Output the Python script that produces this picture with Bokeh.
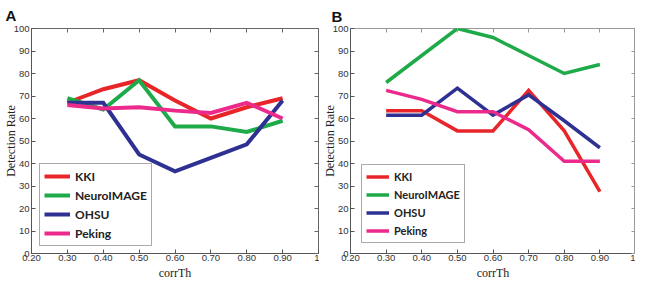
from bokeh.plotting import figure
from bokeh.layouts import row
from bokeh.models import FixedTicker, Legend, LegendItem, Range1d, LinearAxis
from bokeh.embed import file_html
from bokeh.resources import INLINE

corr_th = [0.3, 0.4, 0.5, 0.6, 0.7, 0.8, 0.9]
x_ticks = [0.2, 0.3, 0.4, 0.5, 0.6, 0.7, 0.8, 0.9, 1.0]
x_tick_labels = ["0.20", "0.30", "0.40", "0.50", "0.60", "0.70", "0.80", "0.90", "1"]
y_ticks = [0, 10, 20, 30, 40, 50, 60, 70, 80, 90, 100]
sites = ["KKI", "NeuroIMAGE", "OHSU", "Peking"]
colors = ["#e8262a", "#1faa4a", "#2e3192", "#ec2a8c"]

# Panel A
a_kki = [67, 73, 77, 68, 60, 65, 69]
a_neuro = [69, 64, 77, 56.5, 56.5, 54, 59]
a_ohsu = [67, 67, 44, 36.5, 42.5, 48.5, 68]
a_peking = [66, 64.5, 65, 63.5, 62.5, 67, 60]

# Panel B
b_kki = [63.5, 63.5, 54.5, 54.5, 72.5, 54.5, 27.5]
b_neuro = [76, 88, 100, 96, 88, 80, 84]
b_ohsu = [61.5, 61.5, 73.5, 61.5, 70.5, 59, 47]
b_peking = [72.5, 68.5, 63, 63, 55, 41, 41]


def style_axis(ax, line_color):
    ax.major_tick_in = 4
    ax.major_tick_out = 0
    ax.minor_tick_line_color = None
    ax.axis_line_color = line_color
    ax.major_tick_line_color = line_color
    ax.major_label_text_font = "Liberation Sans"
    ax.major_label_text_font_size = "9.5px"
    ax.major_label_text_color = "#333333"
    ax.axis_label_text_font = "Liberation Serif"
    ax.axis_label_text_font_size = "12px"
    ax.axis_label_text_font_style = "normal"
    ax.axis_label_text_color = "#222222"


def make_panel(letter, series, width, legend_loc, lw, bl, br,
               title_dx, title_standoff, leg_font, leg_h, leg_glyph_w, box_color):
    p = figure(width=width, height=282, output_backend="svg", toolbar_location=None,
               x_range=Range1d(0.2, 1.0), y_range=Range1d(0, 100),
               title=letter, min_border_left=bl, min_border_right=br,
               min_border_top=27, min_border_bottom=0)
    p.title.text_font = "Liberation Sans"
    p.title.text_font_size = "15px"
    p.title.text_font_style = "bold"
    p.title.text_color = "#111111"
    p.title.align = "left"
    p.title.offset = title_dx
    p.title.standoff = title_standoff
    p.grid.visible = False
    p.background_fill_color = "white"
    p.border_fill_color = "white"
    p.outline_line_color = box_color
    p.outline_line_width = 1
    p.outline_line_alpha = 1

    style_axis(p.xaxis[0], "#555555")
    style_axis(p.yaxis[0], "#555555")
    p.xaxis.major_label_standoff = 1
    p.xaxis.axis_label_standoff = 2
    p.yaxis.major_label_standoff = 2
    p.yaxis.axis_label_standoff = -7
    p.xaxis.ticker = FixedTicker(ticks=x_ticks)
    p.xaxis.major_label_overrides = {t: l for t, l in zip(x_ticks, x_tick_labels)}
    p.yaxis.ticker = FixedTicker(ticks=y_ticks)
    p.xaxis.axis_label = "corrTh"
    p.yaxis.axis_label = "Detection Rate"

    # mirrored tick marks (no labels) on top and right edges
    top = LinearAxis(ticker=FixedTicker(ticks=x_ticks))
    right = LinearAxis(ticker=FixedTicker(ticks=y_ticks))
    for ax in (top, right):
        style_axis(ax, box_color)
        ax.major_label_text_font_size = "1px"
        ax.major_label_text_color = None
        ax.major_label_text_alpha = 0
        ax.major_label_standoff = 0
        ax.axis_line_color = None
    p.add_layout(top, "above")
    p.add_layout(right, "right")

    items = []
    for name, ys, c in zip(sites, series, colors):
        r = p.line(corr_th, ys, line_color=c, line_width=lw, line_join="miter")
        items.append(LegendItem(label=name, renderers=[r]))
    leg = Legend(items=items, location=legend_loc)
    leg.label_text_font = "Lato"
    leg.label_text_font_style = "bold"
    leg.label_text_font_size = leg_font
    leg.label_text_color = "#222222"
    leg.glyph_width = leg_glyph_w
    leg.glyph_height = leg_h
    leg.label_height = leg_h
    leg.spacing = 3
    leg.padding = 4
    leg.margin = 0
    leg.label_standoff = 5
    leg.border_line_color = "#555555"
    leg.border_line_width = 1
    leg.background_fill_alpha = 1
    p.add_layout(leg, "center")
    return p


pa = make_panel("A", [a_kki, a_neuro, a_ohsu, a_peking], 319, (8, 7), 4,
                20, 1, -26, 9, "12px", 16, 26, "#666666")
pb = make_panel("B", [b_kki, b_neuro, b_ohsu, b_peking], 316, (11, 10), 3.5,
                24, 0, -19, 7, "11px", 15, 23, "#999999")

layout = row(pa, pb)
open("out.html", "w").write(file_html(layout, INLINE))
